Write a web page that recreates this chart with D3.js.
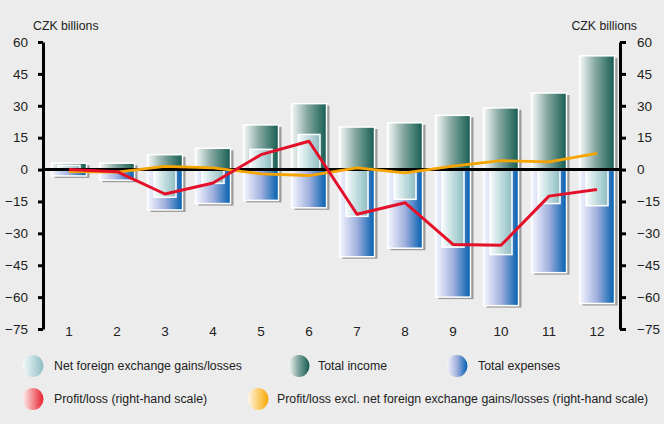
<!DOCTYPE html>
<html>
<head>
<meta charset="utf-8">
<script src="https://cdn.jsdelivr.net/npm/d3@7"></script>
<style>
  html, body { margin: 0; padding: 0; background: #ececec; }
  svg { display: block; font-family: "Liberation Sans", Arial, sans-serif; }
</style>
</head>
<body>
<svg id="chart" width="664" height="424"></svg>
<script>
const categories = ["1","2","3","4","5","6","7","8","9","10","11","12"];
const totalIncome = [3, 3, 7, 10, 21, 31, 20, 22, 25.5, 29, 36, 53.5];
const totalExpenses = [-3, -5, -19, -16, -14.5, -18, -41, -37, -60, -64, -48.5, -63];
const netFx = [2, 0, -13, -6.5, 9.5, 16.5, -22, -14, -36.5, -40, -16, -17];
const profitLoss = [0, -1, -11.5, -6.3, 7, 13.3, -21, -15.6, -35.2, -35.6, -12.5, -9.4];
const profitExclFx = [-1, -1.2, 1.5, 0.8, -2, -2.8, 0.8, -1.6, 1.6, 4.2, 3.6, 7.6];
const yTicks = [60, 45, 30, 15, 0, -15, -30, -45, -60, -75];
const unitLabel = "CZK billions";
const legendLabels = [
  "Net foreign exchange gains/losses",
  "Total income",
  "Total expenses",
  "Profit/loss (right-hand scale)",
  "Profit/loss excl. net foreign exchange gains/losses (right-hand scale)"
];

const svg = d3.select("#chart");
svg.append("rect").attr("width", 664).attr("height", 424).attr("fill", "#ececec");

const defs = svg.append("defs");
function grad(id, stops) {
  const g = defs.append("linearGradient").attr("id", id)
    .attr("x1", "0%").attr("x2", "100%").attr("y1", "0%").attr("y2", "0%");
  stops.forEach(s => g.append("stop").attr("offset", s[0]).attr("stop-color", s[1]));
}
grad("gIncome", [["0%", "#f6f9f8"], ["45%", "#86a9a2"], ["100%", "#145c50"]]);
grad("gExp", [["0%", "#f6f6fd"], ["50%", "#a0b0de"], ["100%", "#005fb0"]]);
grad("gFx", [["0%", "#f6fbfb"], ["100%", "#8dbcc2"]]);
grad("gRed", [["0%", "#fdf0ee"], ["100%", "#e8202c"]]);
grad("gOrange", [["0%", "#fff8ea"], ["100%", "#f6a800"]]);

const x = d3.scaleBand().domain(categories).range([45, 621]).padding(0);
const y = d3.scaleLinear().domain([-75, 60]).range([329, 42]);
const cx = c => x(c) + x.bandwidth() / 2;

const wideW = 35, fxW = 22;

// shadows
const plot = svg.append("g");
categories.forEach((c, i) => {
  const x0 = cx(c) - wideW / 2;
  plot.append("rect").attr("x", x0 + 3).attr("y", y(totalIncome[i]) + 2)
    .attr("width", wideW).attr("height", y(totalExpenses[i]) - y(totalIncome[i]))
    .attr("fill", "#9a9a9a");
});
// income bars
plot.selectAll(".inc").data(categories).join("rect")
  .attr("x", c => cx(c) - wideW / 2)
  .attr("y", (c, i) => y(totalIncome[i]))
  .attr("width", wideW)
  .attr("height", (c, i) => y(0) - y(totalIncome[i]))
  .attr("fill", "url(#gIncome)")
  .attr("stroke", "#ffffff").attr("stroke-width", 1.5);
// expense bars
plot.selectAll(".exp").data(categories).join("rect")
  .attr("x", c => cx(c) - wideW / 2)
  .attr("y", y(0))
  .attr("width", wideW)
  .attr("height", (c, i) => y(totalExpenses[i]) - y(0))
  .attr("fill", "url(#gExp)")
  .attr("stroke", "#ffffff").attr("stroke-width", 1.5);
// fx bars
plot.selectAll(".fx").data(categories).join("rect")
  .attr("x", c => cx(c) - fxW / 2)
  .attr("y", (c, i) => y(Math.max(0, netFx[i])))
  .attr("width", fxW)
  .attr("height", (c, i) => Math.abs(y(netFx[i]) - y(0)))
  .attr("fill", "url(#gFx)")
  .attr("stroke", "#ffffff").attr("stroke-width", 1.5);

// zero line
svg.append("line").attr("x1", 43).attr("x2", 620).attr("y1", y(0)).attr("y2", y(0))
  .attr("stroke", "#000").attr("stroke-width", 3);

// lines
const line = d3.line().x((d, i) => cx(categories[i])).y(d => y(d));
svg.append("path").datum(profitExclFx).attr("d", line)
  .attr("fill", "none").attr("stroke", "#f5a400").attr("stroke-width", 2.8).attr("stroke-linejoin", "round");
svg.append("path").datum(profitLoss).attr("d", line)
  .attr("fill", "none").attr("stroke", "#e4102a").attr("stroke-width", 3).attr("stroke-linejoin", "round");

// axes
const yl = svg.append("g").attr("transform", "translate(43,0)")
  .call(d3.axisLeft(y).tickValues(yTicks).tickSize(5).tickSizeOuter(0).tickPadding(10));
const yr = svg.append("g").attr("transform", "translate(620,0)")
  .call(d3.axisRight(y).tickValues(yTicks).tickSize(6).tickSizeOuter(0).tickPadding(11));
[yl, yr].forEach(g => {
  g.select(".domain").attr("stroke", "#000").attr("stroke-width", 3);
  g.selectAll(".tick line").attr("stroke", "#000").attr("stroke-width", 3);
  g.selectAll(".tick text").attr("font-size", 13.5).attr("fill", "#222")
    .attr("font-family", "Liberation Sans, Arial, sans-serif");
});

// x labels
svg.selectAll(".xl").data(categories).join("text")
  .attr("x", c => cx(c)).attr("y", 336)
  .attr("text-anchor", "middle").attr("font-size", 13.5).attr("fill", "#222")
  .text(c => c);

// unit labels
svg.append("text").attr("x", 33).attr("y", 30).attr("font-size", 12.3).attr("fill", "#222").text(unitLabel);
svg.append("text").attr("x", 637).attr("y", 30).attr("text-anchor", "end").attr("font-size", 12.3).attr("fill", "#222").text(unitLabel);

// legend
const legendItems = [
  { label: legendLabels[0], fill: "url(#gFx)", ix: 33, tx: 54, y: 366 },
  { label: legendLabels[1], fill: "url(#gIncome)", ix: 299, tx: 318, y: 366 },
  { label: legendLabels[2], fill: "url(#gExp)", ix: 457, tx: 478, y: 366 },
  { label: legendLabels[3], fill: "url(#gRed)", ix: 33, tx: 54, y: 399 },
  { label: legendLabels[4], fill: "url(#gOrange)", ix: 258, tx: 277, y: 399 }
];
const lg = svg.append("g");
legendItems.forEach(d => {
  lg.append("ellipse").attr("cx", d.ix).attr("cy", d.y).attr("rx", 10.5).attr("ry", 11)
    .attr("fill", d.fill);
  lg.append("text").attr("x", d.tx).attr("y", d.y).attr("dy", "0.35em")
    .attr("font-size", 12.3).attr("fill", "#222").text(d.label);
});
</script>
</body>
</html>
